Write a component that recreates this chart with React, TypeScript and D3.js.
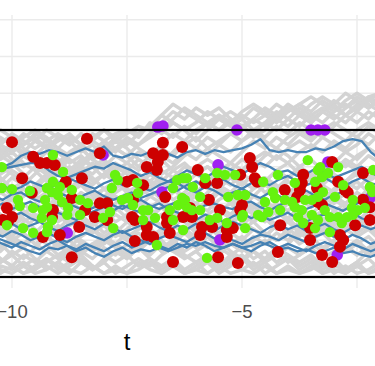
import * as d3 from 'd3'

// sample times of the grey paths
const greyTimes = [-10.5, -10.25, -10, -9.75, -9.5, -9.25, -9, -8.75, -8.5, -8.25, -8, -7.75, -7.5, -7.25, -7, -6.75, -6.5, -6.25, -6, -5.75, -5.5, -5.25, -5, -4.75, -4.5, -4.25, -4, -3.75, -3.5, -3.25, -3, -2.75, -2.5, -2.25, -2]

const greyPaths = [
  [1.9, 1.7, 1.8, 1.5, 1.3, 1.6, 1.4, 1.1, 1.3, 1.0, 1.2, 0.9, 1.1, 1.4, 1.2, 1.5, 1.3, 1.6, 1.8, 1.5, 1.7, 1.9, 2.1, 1.8, 2.0, 2.3, 2.1, 2.4, 2.2, 2.5, 2.7, 2.4, 2.6, 2.9, 2.7],
  [1.5, 1.8, 1.6, 1.9, 1.7, 2.0, 1.8, 1.6, 1.9, 1.7, 1.5, 1.8, 2.0, 1.9, 2.1, 2.4, 2.7, 2.5, 2.3, 2.1, 2.4, 2.2, 2.5, 2.7, 2.5, 2.3, 2.6, 2.4, 2.7, 2.9, 2.7, 3.0, 2.8, 2.6, 2.9],
  [1.0, 1.3, 1.1, 1.4, 1.7, 1.5, 1.8, 1.6, 1.9, 1.7, 2.0, 1.8, 1.6, 1.9, 2.1, 1.9, 2.2, 2.0, 1.7, 2.0, 2.3, 2.5, 2.3, 2.6, 2.4, 2.2, 2.5, 2.7, 2.5, 2.8, 2.6, 2.4, 2.7, 2.9, 3.0],
  [0.6, 0.4, 0.7, 0.5, 0.8, 1.1, 0.9, 1.2, 1.0, 1.3, 1.6, 1.4, 1.7, 1.5, 1.3, 1.6, 1.9, 1.7, 2.0, 2.2, 2.0, 2.3, 2.1, 1.9, 2.2, 2.0, 2.3, 2.1, 2.4, 2.6, 2.4, 2.2, 2.5, 2.3, 2.6],
  [0.3, 0.6, 0.9, 0.7, 1.0, 0.8, 0.5, 0.8, 1.1, 1.4, 1.2, 1.5, 1.3, 1.0, 1.3, 1.1, 1.4, 1.7, 1.5, 1.8, 1.6, 1.9, 1.7, 2.0, 1.8, 2.1, 1.9, 2.2, 2.0, 1.8, 2.1, 2.4, 2.2, 2.5, 2.3],
  [-0.2, 0.1, -0.1, 0.2, 0.5, 0.3, 0.6, 0.4, 0.7, 0.5, 0.8, 0.6, 0.9, 1.2, 1.0, 1.3, 1.1, 1.4, 1.2, 1.5, 1.3, 1.1, 1.4, 1.7, 1.5, 1.8, 1.6, 1.9, 1.7, 2.0, 2.2, 2.0, 1.8, 2.1, 1.9],
  [-0.6, -0.3, -0.5, -0.2, -0.4, -0.1, 0.2, 0.0, 0.3, 0.1, 0.4, 0.2, 0.0, 0.3, 0.6, 0.4, 0.7, 0.5, 0.8, 1.0, 0.8, 1.1, 0.9, 1.2, 1.0, 1.3, 1.1, 1.4, 1.6, 1.4, 1.7, 1.5, 1.8, 1.6, 1.9],
  [-1.0, -0.7, -0.9, -0.6, -0.8, -0.5, -0.7, -0.4, -0.1, -0.3, 0.0, -0.2, 0.1, -0.1, 0.2, 0.0, 0.3, 0.5, 0.3, 0.6, 0.4, 0.7, 0.5, 0.8, 0.6, 0.9, 0.7, 1.0, 0.8, 1.1, 0.9, 1.2, 1.0, 1.3, 1.1],
  [-1.4, -1.2, -0.9, -1.1, -0.8, -1.0, -0.7, -0.9, -0.6, -0.8, -0.5, -0.3, -0.5, -0.2, -0.4, -0.1, -0.3, 0.0, -0.2, 0.1, 0.3, 0.1, 0.4, 0.2, 0.5, 0.3, 0.6, 0.4, 0.2, 0.5, 0.3, 0.6, 0.8, 0.6, 0.9],
  [-1.7, -1.5, -1.7, -1.4, -1.6, -1.3, -1.5, -1.2, -1.4, -1.1, -0.9, -1.1, -0.8, -1.0, -0.7, -0.9, -0.6, -0.8, -0.5, -0.7, -0.4, -0.6, -0.3, -0.1, -0.3, 0.0, -0.2, 0.1, -0.1, 0.2, 0.0, 0.3, 0.1, 0.4, 0.2],
  [-1.9, -1.7, -1.8, -1.6, -1.8, -1.5, -1.7, -1.9, -1.6, -1.8, -1.5, -1.3, -1.5, -1.2, -1.4, -1.1, -1.3, -1.0, -1.2, -0.9, -1.1, -0.8, -1.0, -0.7, -0.9, -0.6, -0.8, -0.5, -0.7, -0.4, -0.6, -0.3, -0.5, -0.2, -0.4],
  [1.7, 1.4, 1.6, 1.3, 1.1, 1.4, 1.2, 0.9, 1.2, 1.0, 0.7, 1.0, 0.8, 0.5, 0.8, 0.6, 0.3, 0.6, 0.4, 0.1, 0.4, 0.2, -0.1, 0.2, 0.0, -0.3, 0.0, -0.2, -0.5, -0.2, -0.4, -0.7, -0.4, -0.6, -0.9],
  [1.2, 0.9, 1.1, 0.8, 0.5, 0.8, 0.6, 0.3, 0.5, 0.2, 0.4, 0.1, -0.2, 0.0, -0.3, -0.1, -0.4, -0.2, -0.5, -0.3, -0.6, -0.4, -0.7, -0.5, -0.8, -1.0, -0.8, -1.1, -0.9, -1.2, -1.0, -1.3, -1.1, -1.4, -1.2],
  [0.8, 0.5, 0.2, 0.4, 0.1, 0.3, 0.0, -0.3, -0.1, -0.4, -0.2, -0.5, -0.3, -0.6, -0.9, -0.7, -1.0, -0.8, -1.1, -0.9, -1.2, -1.4, -1.2, -1.5, -1.3, -1.6, -1.4, -1.7, -1.5, -1.8, -1.6, -1.9, -1.7, -1.5, -1.8],
  [0.4, 0.1, -0.2, 0.0, -0.3, -0.5, -0.3, -0.6, -0.4, -0.7, -0.9, -0.7, -1.0, -1.2, -1.0, -1.3, -1.1, -1.4, -1.6, -1.4, -1.7, -1.5, -1.8, -1.6, -1.9, -1.7, -1.5, -1.8, -1.6, -1.9, -1.7, -1.8, -1.6, -1.9, -1.7],
  [0.0, -0.3, -0.6, -0.4, -0.7, -0.9, -1.2, -1.0, -1.3, -1.1, -1.4, -1.6, -1.4, -1.7, -1.5, -1.8, -1.6, -1.9, -1.7, -1.5, -1.8, -1.6, -1.4, -1.7, -1.5, -1.3, -1.6, -1.4, -1.2, -1.5, -1.3, -1.1, -1.4, -1.2, -1.0],
  [-0.4, -0.7, -0.5, -0.8, -1.1, -1.3, -1.1, -1.4, -1.6, -1.8, -1.6, -1.9, -1.7, -1.5, -1.7, -1.4, -1.2, -1.5, -1.3, -1.1, -1.3, -1.0, -1.2, -0.9, -1.1, -0.8, -1.0, -0.7, -0.9, -0.6, -0.8, -0.5, -0.7, -0.4, -0.6],
  [-0.8, -1.1, -1.4, -1.2, -1.5, -1.7, -1.9, -1.7, -1.5, -1.8, -1.6, -1.3, -1.5, -1.2, -1.0, -1.3, -1.1, -0.8, -1.0, -0.7, -0.5, -0.8, -0.6, -0.3, -0.5, -0.2, -0.4, -0.1, -0.3, 0.0, 0.2, 0.0, 0.3, 0.1, 0.4],
  [-1.2, -1.5, -1.7, -1.9, -1.7, -1.5, -1.8, -1.6, -1.4, -1.7, -1.9, -1.7, -1.9, -1.8, -1.6, -1.9, -1.7, -1.9, -1.8, -1.6, -1.9, -1.7, -1.5, -1.8, -1.6, -1.9, -1.7, -1.9, -1.8, -1.6, -1.9, -1.7, -1.9, -1.8, -1.6],
  [-1.6, -1.9, -1.7, -1.9, -1.8, -1.6, -1.4, -1.6, -1.3, -1.5, -1.2, -1.4, -1.1, -1.3, -1.0, -0.8, -1.0, -0.7, -0.9, -0.6, -0.8, -0.5, -0.3, -0.5, -0.2, 0.0, -0.2, 0.1, 0.3, 0.1, 0.4, 0.6, 0.4, 0.7, 0.9],
  [1.8, 2.0, 1.8, 1.6, 1.8, 1.5, 1.7, 1.9, 1.6, 1.8, 2.0, 1.7, 1.9, 2.1, 2.0, 2.4, 2.2, 2.0, 2.2, 2.5, 2.3, 2.1, 2.3, 2.0, 2.2, 2.5, 2.3, 2.6, 2.4, 2.2, 2.5, 2.7, 2.5, 2.8, 3.0],
  [1.4, 1.6, 1.9, 1.7, 1.5, 1.7, 1.9, 1.7, 1.4, 1.6, 1.3, 1.5, 1.8, 1.6, 1.9, 2.2, 2.5, 2.3, 2.6, 2.4, 2.6, 2.3, 2.1, 2.3, 2.6, 2.4, 2.7, 2.5, 2.3, 2.5, 2.8, 2.6, 2.9, 2.7, 2.5],
  [0.9, 0.7, 0.4, 0.6, 0.3, 0.5, 0.8, 0.6, 0.9, 0.7, 0.4, 0.6, 0.3, 0.5, 0.2, 0.4, 0.1, 0.3, 0.6, 0.4, 0.7, 0.5, 0.8, 0.6, 0.3, 0.5, 0.2, 0.4, 0.7, 0.5, 0.8, 0.6, 0.9, 0.7, 1.0],
  [0.1, 0.3, 0.5, 0.2, 0.4, 0.7, 0.9, 0.7, 1.0, 0.8, 1.1, 0.9, 0.6, 0.8, 0.5, 0.7, 0.4, 0.2, 0.4, 0.1, 0.3, 0.0, 0.2, -0.1, 0.1, -0.2, 0.0, 0.2, -0.1, 0.1, -0.2, 0.0, -0.3, -0.1, -0.4],
  [-0.3, -0.1, 0.2, 0.4, 0.2, 0.5, 0.3, 0.1, -0.2, 0.0, -0.3, -0.1, -0.4, -0.2, -0.5, -0.3, -0.6, -0.4, -0.7, -0.5, -0.2, -0.4, -0.1, -0.3, 0.0, -0.2, -0.5, -0.3, -0.6, -0.4, -0.7, -0.5, -0.8, -0.6, -0.3],
  [-0.9, -0.6, -0.8, -0.5, -0.3, -0.5, -0.2, -0.4, -0.7, -0.5, -0.8, -0.6, -0.9, -0.7, -0.4, -0.6, -0.3, -0.5, -0.8, -0.6, -0.9, -1.1, -0.9, -1.2, -1.0, -1.3, -1.1, -0.8, -1.0, -0.7, -0.9, -1.2, -1.0, -1.3, -1.1],
  [-1.5, -1.3, -1.0, -1.2, -0.9, -1.1, -1.4, -1.2, -0.9, -0.7, -1.0, -0.8, -0.5, -0.7, -0.4, -0.6, -0.9, -0.7, -1.0, -1.2, -1.0, -1.3, -1.5, -1.3, -1.6, -1.4, -1.2, -1.4, -1.1, -1.3, -1.0, -1.2, -1.4, -1.2, -1.5],
  [0.5, 0.8, 1.0, 1.3, 1.1, 0.8, 1.0, 1.3, 1.5, 1.2, 1.4, 1.7, 1.5, 1.2, 1.0, 1.2, 0.9, 1.1, 0.8, 1.0, 0.7, 0.9, 1.2, 1.0, 1.3, 1.5, 1.3, 1.0, 1.2, 0.9, 1.1, 1.4, 1.2, 1.5, 1.3],
  [1.6, 1.3, 1.5, 1.8, 2.0, 1.8, 1.5, 1.3, 1.5, 1.2, 1.0, 1.3, 1.1, 0.9, 1.1, 0.8, 1.0, 1.3, 1.5, 1.3, 1.6, 1.4, 1.7, 1.9, 1.7, 1.5, 1.8, 2.0, 1.8, 2.1, 1.9, 1.7, 2.0, 2.2, 2.0],
  [-1.1, -0.8, -0.5, -0.7, -0.4, -0.2, 0.1, -0.1, 0.2, 0.0, -0.2, 0.0, 0.3, 0.1, -0.1, 0.1, -0.2, 0.0, 0.2, 0.0, 0.3, 0.1, -0.2, 0.0, -0.3, -0.1, 0.1, -0.1, -0.4, -0.2, 0.1, -0.1, -0.3, -0.1, -0.4],
  [1.3, 1.5, 1.2, 1.0, 1.2, 0.9, 1.1, 1.4, 1.6, 1.4, 1.7, 1.5, 1.3, 1.6, 1.8, 2.0, 1.8, 2.1, 1.9, 2.2, 2.4, 2.2, 2.0, 2.3, 2.1, 2.4, 2.6, 2.4, 2.2, 2.5, 2.3, 2.6, 2.8, 2.6, 2.8],
  [0.2, -0.1, 0.1, -0.2, -0.4, -0.2, -0.5, -0.3, -0.6, -0.8, -0.6, -0.9, -0.7, -0.4, -0.6, -0.3, -0.5, -0.2, 0.0, -0.2, 0.1, 0.3, 0.1, 0.4, 0.6, 0.4, 0.7, 0.9, 0.7, 1.0, 1.2, 1.0, 1.3, 1.5, 1.3],
  [-1.3, -1.6, -1.4, -1.7, -1.5, -1.8, -1.6, -1.3, -1.1, -1.3, -1.0, -1.2, -1.4, -1.2, -1.5, -1.7, -1.5, -1.8, -1.6, -1.9, -1.7, -1.4, -1.6, -1.3, -1.5, -1.2, -1.4, -1.6, -1.4, -1.7, -1.5, -1.8, -1.6, -1.3, -1.5],
  [0.7, 1.0, 0.8, 0.6, 0.3, 0.5, 0.2, 0.4, 0.6, 0.3, 0.1, 0.3, 0.5, 0.8, 0.6, 0.9, 0.7, 1.0, 0.8, 0.6, 0.9, 1.1, 0.9, 1.2, 1.4, 1.2, 1.5, 1.7, 1.5, 1.8, 1.6, 1.4, 1.6, 1.9, 1.7],
  [-0.5, -0.8, -1.0, -0.8, -1.1, -0.9, -0.6, -0.8, -1.1, -1.3, -1.1, -0.8, -1.0, -0.8, -1.1, -0.9, -0.6, -0.4, -0.6, -0.3, -0.1, -0.3, 0.0, -0.2, -0.4, -0.7, -0.5, -0.8, -1.0, -0.8, -1.1, -1.3, -1.1, -0.9, -1.2],
  [1.1, 1.4, 1.6, 1.4, 1.1, 0.8, 1.0, 0.7, 0.9, 0.6, 0.8, 1.1, 0.9, 0.7, 0.4, 0.6, 0.9, 0.7, 1.0, 1.2, 1.0, 0.7, 0.5, 0.8, 0.6, 0.9, 1.1, 0.8, 0.6, 0.9, 0.7, 0.4, 0.6, 0.3, 0.5],
  [-1.8, -1.6, -1.3, -1.5, -1.2, -0.9, -1.1, -0.8, -1.0, -1.2, -0.9, -1.1, -1.3, -1.1, -0.8, -1.0, -1.3, -1.5, -1.3, -1.6, -1.4, -1.1, -1.3, -1.0, -0.8, -1.0, -0.7, -0.9, -0.6, -0.8, -0.5, -0.7, -0.9, -0.7, -1.0],
  [0.0, 0.3, 0.1, 0.4, 0.2, 0.0, -0.3, -0.5, -0.3, -0.1, 0.2, 0.4, 0.7, 0.5, 0.8, 0.6, 0.4, 0.1, 0.3, 0.0, -0.2, 0.0, -0.3, -0.5, -0.3, -0.6, -0.4, -0.7, -0.5, -0.2, -0.4, -0.1, 0.1, -0.1, 0.2],
  [1.9, 1.6, 1.4, 1.6, 1.9, 1.7, 1.5, 1.8, 1.6, 1.9, 1.7, 1.9, 2.0, 1.8, 2.2, 2.0, 2.3, 2.6, 2.4, 2.2, 2.0, 2.2, 2.4, 2.2, 2.4, 2.7, 2.5, 2.7, 2.9, 2.7, 2.5, 2.8, 3.0, 2.8, 2.7],
  [-0.7, -0.4, -0.6, -0.3, 0.0, -0.2, -0.4, -0.1, -0.3, -0.6, -0.4, -0.7, -0.9, -1.1, -0.9, -1.2, -1.0, -1.3, -1.1, -0.9, -0.6, -0.8, -0.5, -0.7, -0.9, -0.6, -0.8, -0.5, -0.3, -0.5, -0.2, -0.4, -0.6, -0.4, -0.7],
  [1.5, 1.2, 1.4, 1.1, 0.9, 0.6, 0.8, 1.0, 0.8, 1.1, 0.9, 0.6, 0.4, 0.2, 0.4, 0.1, -0.1, 0.2, 0.0, 0.3, 0.5, 0.3, 0.6, 0.4, 0.7, 0.5, 0.3, 0.5, 0.8, 0.6, 0.9, 1.1, 0.9, 0.6, 0.8],
  [-1.9, -1.8, -1.9, -1.7, -1.9, -1.8, -1.6, -1.8, -1.9, -1.7, -1.9, -1.8, -1.9, -1.6, -1.8, -1.9, -1.7, -1.9, -1.8, -1.9, -1.7, -1.9, -1.8, -1.9, -1.7, -1.9, -1.8, -1.9, -1.7, -1.9, -1.8, -1.9, -1.7, -1.9, -1.8],
]

// sample times of the blue paths
const blueTimes = [-10.4, -10.2, -10, -9.8, -9.6, -9.4, -9.2, -9, -8.8, -8.6, -8.4, -8.2, -8, -7.8, -7.6, -7.4, -7.2, -7, -6.8, -6.6, -6.4, -6.2, -6, -5.8, -5.6, -5.4, -5.2, -5, -4.8, -4.6, -4.4, -4.2, -4, -3.8, -3.6, -3.4, -3.2, -3, -2.8, -2.6, -2.4, -2.2, -2]

const bluePaths = [
  [0.9, 1.0, 1.1, 1.3, 1.4, 1.35, 1.45, 1.4, 1.3, 1.4, 1.5, 1.4, 1.55, 1.3, 1.25, 1.35, 1.3, 1.4, 1.3, 1.35, 1.25, 1.4, 1.45, 1.35, 1.45, 1.4, 1.45, 1.5, 1.6, 1.75, 1.45, 1.4, 1.45, 1.4, 1.4, 1.5, 1.45, 1.55, 1.7, 1.75, 1.7, 1.4, 1.2],
  [0.85, 0.95, 1.0, 1.05, 1.1, 1.1, 0.9, 0.75, 0.7, 0.8, 0.9, 1.0, 0.95, 1.1, 1.0, 0.9, 0.75, 0.85, 0.7, 0.6, 0.75, 0.9, 0.8, 0.7, 0.85, 1.0, 0.9, 0.8, 0.95, 1.1, 1.0, 0.85, 0.9, 0.75, 0.8, 0.95, 0.85, 0.7, 0.8, 0.9, 1.0, 0.85, 0.7],
  [0.4, 0.5, 0.35, 0.45, 0.6, 0.5, 0.4, 0.55, 0.7, 0.6, 0.5, 0.4, 0.55, 0.65, 0.5, 0.6, 0.45, 0.35, 0.5, 0.6, 0.55, 0.4, 0.3, 0.45, 0.35, 0.2, 0.3, 0.4, 0.25, 0.15, 0.3, 0.2, 0.1, 0.25, 0.35, 0.2, 0.1, 0.25, 0.3, 0.15, 0.05, 0.2, 0.3],
  [0.2, 0.1, 0.25, 0.3, 0.15, 0.05, 0.2, 0.3, 0.2, 0.1, 0.25, 0.35, 0.2, 0.1, 0.2, 0.3, 0.15, 0.25, 0.35, 0.45, 0.35, 0.5, 0.6, 0.45, 0.55, 0.65, 0.5, 0.4, 0.55, 0.6, 0.5, 0.65, 0.75, 0.6, 0.5, 0.6, 0.7, 0.55, 0.45, 0.6, 0.7, 0.55, 0.5],
  [-0.1, 0.0, -0.15, -0.05, 0.05, -0.1, -0.2, -0.05, 0.0, -0.1, -0.2, -0.1, 0.05, -0.05, -0.15, 0.0, 0.1, -0.05, -0.15, -0.05, 0.05, -0.1, -0.2, -0.05, 0.0, -0.1, -0.15, 0.0, 0.05, -0.1, -0.2, -0.05, 0.05, -0.05, -0.15, -0.05, 0.0, -0.1, -0.2, -0.05, 0.05, -0.1, -0.15],
  [-0.3, -0.45, -0.35, -0.25, -0.4, -0.5, -0.35, -0.25, -0.35, -0.45, -0.3, -0.2, -0.1, -0.2, -0.05, -0.15, -0.25, -0.1, 0.0, -0.15, -0.25, -0.35, -0.45, -0.3, -0.4, -0.5, -0.35, -0.25, -0.4, -0.3, -0.45, -0.35, -0.25, -0.4, -0.5, -0.35, -0.3, -0.45, -0.35, -0.25, -0.4, -0.5, -0.35],
  [-0.5, -0.4, -0.55, -0.7, -0.6, -0.5, -0.65, -0.75, -0.6, -0.5, -0.6, -0.7, -0.55, -0.65, -0.8, -0.7, -0.6, -0.5, -0.65, -0.75, -0.6, -0.7, -0.55, -0.65, -0.75, -0.6, -0.5, -0.6, -0.7, -0.8, -0.65, -0.55, -0.7, -0.6, -0.75, -0.65, -0.55, -0.7, -0.8, -0.65, -0.6, -0.7, -0.6],
  [-0.8, -0.9, -0.75, -0.85, -1.0, -0.9, -0.8, -0.95, -1.05, -0.9, -0.8, -0.9, -1.0, -0.85, -0.75, -0.9, -1.0, -1.1, -0.95, -0.85, -0.95, -1.05, -0.9, -0.8, -0.95, -0.85, -1.0, -1.1, -0.95, -0.85, -0.9, -1.0, -0.85, -0.95, -1.05, -0.9, -0.8, -0.9, -1.0, -0.85, -0.95, -1.1, -1.0],
  [-1.0, -1.1, -1.2, -1.05, -1.15, -1.25, -1.1, -1.0, -1.15, -1.25, -1.1, -1.2, -1.3, -1.15, -1.05, -1.2, -1.1, -1.0, -1.15, -1.25, -1.1, -1.2, -1.05, -1.15, -1.3, -1.2, -1.1, -1.2, -1.3, -1.15, -1.05, -1.2, -1.1, -1.2, -1.3, -1.15, -1.05, -1.15, -1.25, -1.1, -1.2, -1.3, -1.2],
  [-0.9, -1.0, -1.1, -1.2, -1.3, -1.38, -1.2, -1.25, -1.15, -1.3, -1.2, -1.35, -1.45, -1.3, -1.2, -1.35, -1.25, -1.3, -1.2, -1.3, -1.2, -1.1, -1.15, -1.05, -1.15, -1.2, -1.1, -1.2, -1.15, -1.05, -1.15, -1.25, -1.2, -1.3, -1.25, -1.35, -1.3, -1.2, -1.35, -1.3, -1.4, -1.45, -1.35],
]

const redT = [-10.0, -8.37, -9.54, -9.39, -9.24, -9.07, -8.09, -9.78, -8.83, -8.48, -8.7, -10.11, -10.0, -10.2, -10.09, -9.57, -9.11, -9.13, -8.41, -8.09, -7.93, -8.2, -7.93, -8.54, -9.33, -8.96, -8.7, -7.5, -7.37, -7.15, -7.37, -7.39, -7.33, -7.07, -7.07, -6.93, -7.33, -6.72, -6.3, -6.93, -6.72, -6.83, -7.07, -6.85, -6.67, -6.63, -6.63, -6.57, -6.5, -6.28, -5.96, -5.54, -4.83, -4.78, -5.8, -4.72, -4.67, -5.04, -5.72, -5.48, -6.13, -6.09, -5.0, -5.04, -5.87, -5.91, -5.65, -5.33, -5.33, -5.2, -5.52, -5.09, -4.22, -4.07, -4.17, -3.67, -3.7, -3.74, -3.8, -3.52, -3.26, -3.37, -3.35, -3.04, -2.91, -2.76, -2.7, -2.87, -2.8, -2.87, -3.26, -3.04, -2.37, -2.54, -2.22, -2.22, -2.37, -3.52]
const redV = [1.67, 1.76, 1.27, 1.1, 1.1, 1.05, 1.37, 0.69, 0.59, 0.69, 0.15, -0.12, -0.37, -0.45, -0.5, 0.29, -0.18, -0.37, -0.18, 0.01, 0.01, -0.37, -0.45, -0.64, -0.91, -0.86, -1.46, 0.59, 0.64, 0.5, 0.1, -0.37, -0.45, -0.64, -0.86, -0.91, -1.02, 1.65, 1.54, 1.37, 1.32, 1.13, 0.99, 0.91, 0.18, -0.37, -0.53, -0.8, -1.59, -0.37, 0.91, 0.56, 1.24, 0.99, 0.56, 0.69, 0.59, 0.78, 0.1, -0.18, -0.12, -0.37, -0.04, -0.18, -0.64, -0.86, -0.64, -0.72, -0.91, -0.67, -1.46, -1.62, -1.32, 0.37, -0.59, 0.78, 0.56, 0.37, 0.18, -0.99, -0.04, 0.42, 0.04, 1.13, 0.59, 0.37, 0.29, -0.86, -0.99, -1.18, -1.4, -1.59, 0.83, -0.59, -0.1, -0.45, 0.1, -0.67]

const greenT = [-9.11, -10.22, -8.89, -9.11, -8.96, -10.22, -10.0, -9.61, -9.24, -9.13, -9.0, -8.7, -9.87, -9.83, -9.28, -9.24, -8.91, -8.52, -8.35, -9.54, -9.33, -8.78, -8.8, -8.52, -8.02, -7.87, -9.35, -9.13, -10.11, -9.76, -9.22, -9.24, -9.54, -7.8, -7.76, -7.7, -7.83, -7.61, -7.48, -7.28, -7.26, -7.37, -7.15, -7.04, -6.89, -6.85, -6.57, -6.39, -6.5, -6.3, -6.28, -6.41, -6.5, -6.28, -7.15, -5.54, -5.37, -5.15, -5.8, -4.22, -3.57, -3.85, -4.54, -6.2, -6.07, -5.91, -6.2, -6.09, -5.91, -5.3, -5.09, -4.93, -4.5, -4.33, -4.28, -4.07, -4.17, -3.91, -3.63, -3.48, -3.85, -3.7, -3.41, -3.26, -3.35, -3.3, -3.13, -2.91, -3.35, -3.24, -3.2, -2.98, -2.8, -2.59, -2.61, -2.33, -2.22, -2.17, -2.15, -2.48, -4.57, -4.43, -3.48, -3.35, -3.09, -2.91, -2.83, -2.72, -2.59, -4.98, -4.65, -3.78, -3.67, -3.41, -3.09, -5.7, -5.54, -5.33, -4.93, -5.0, -6.24, -5.76]
const greenV = [1.32, 0.99, 0.86, 0.59, 0.45, 0.42, 0.39, 0.34, 0.42, 0.31, 0.23, 0.37, 0.1, -0.07, 0.1, -0.1, 0.04, 0.1, 0.01, -0.12, -0.18, -0.12, -0.31, -0.31, -0.39, -0.23, -0.39, -0.45, -0.59, -0.67, -0.64, -0.78, -0.8, -0.67, 0.78, 0.64, 0.42, 0.1, 0.15, 0.56, 0.29, -0.04, -0.18, -0.18, -0.39, -1.13, -0.18, -0.04, 0.42, 0.15, 0.69, 0.64, -0.45, -0.72, -0.45, 0.83, 0.78, 0.78, 0.69, 0.78, 1.18, 0.56, 0.59, 0.69, 0.45, 0.18, -0.1, -0.18, -0.18, 0.18, 0.23, 0.23, 0.04, 0.31, 0.15, 0.1, -0.18, 0.04, 0.1, 0.1, -0.1, -0.18, 0.59, 0.72, 0.91, 0.99, 0.83, 0.99, 0.18, 0.31, -0.18, 0.18, 0.5, 0.1, -0.12, -0.12, 0.45, 0.31, 0.91, -0.18, -0.37, -0.23, -0.31, -0.45, -0.37, -0.37, -0.53, -0.37, -0.31, -0.31, -0.31, -0.37, -0.53, -0.67, -0.78, -0.45, -0.39, -0.53, -0.67, -0.37, 0.1, -1.48]

const purpleT = [-6.83, -6.72, -5.11, -3.5, -3.35, -3.2, -8.02, -8.8, -6.74, -5.52, -5.48, -2.93, -2.22, -3.13]
const purpleV = [2.08, 2.11, 2.0, 2.0, 2.0, 2.0, 1.32, -0.8, 0.31, 1.05, -0.99, -1.4, 0.15, 1.13]

const boxT = [-10.6, -1.7]
const boxV = [-2, 2]

const xTicks = [-10, -5]
const xTickLabels = ['\u221210', '\u22125']
const xGrid = [-10, -7.5, -5, -2.5]
const yGrid = [-2, -1, 0, 1, 2, 3, 4, 5]

const W = 375
const H = 366

export default function App() {
  const x = d3.scaleLinear().domain([-10, -5]).range([12, 242])
  const y = d3.scaleLinear().domain([-2, 2]).range([277, 130])
  const panelTop = 15
  const panelBottom = 288

  const pathOf = (times: number[]) =>
    d3.line<number>()
      .x((_, i) => x(times[i]))
      .y((d) => y(d))

  const greyLine = pathOf(greyTimes)
  const blueLine = pathOf(blueTimes)

  return (
    <div style={{ position: 'fixed', left: 0, top: 0, background: '#fff' }}>
      <svg width={W} height={H} style={{ display: 'block' }} fontFamily="'Liberation Sans', Arial, sans-serif">
        <rect width={W} height={H} fill="#fff" />
        {yGrid.map((v) => (
          <line key={'h' + v} x1={0} x2={W} y1={y(v)} y2={y(v)} stroke="#ebebeb" strokeWidth={1.4} />
        ))}
        {xGrid.map((t) => (
          <line key={'v' + t} x1={x(t)} x2={x(t)} y1={panelTop} y2={panelBottom} stroke="#ebebeb" strokeWidth={1.4} />
        ))}
        <g fill="none" stroke="#d3d3d3" strokeWidth={3.4} strokeLinejoin="round">
          {greyPaths.map((p, i) => (
            <path key={i} d={greyLine(p) ?? ''} />
          ))}
        </g>
        <g fill="none" stroke="#4682b4" strokeWidth={2.3} strokeLinejoin="round">
          {bluePaths.map((p, i) => (
            <path key={i} d={blueLine(p) ?? ''} />
          ))}
        </g>
        <g fill="#a020f0">
          {purpleT.map((t, i) => (
            <circle key={i} cx={x(t)} cy={y(purpleV[i])} r={5.8} />
          ))}
        </g>
        <g fill="#cd0000">
          {redT.map((t, i) => (
            <circle key={i} cx={x(t)} cy={y(redV[i])} r={6} />
          ))}
        </g>
        <g fill="#66f20f">
          {greenT.map((t, i) => (
            <circle key={i} cx={x(t)} cy={y(greenV[i])} r={5.2} />
          ))}
        </g>
        <rect
          x={x(boxT[0])}
          y={y(boxV[1])}
          width={x(boxT[1]) - x(boxT[0])}
          height={y(boxV[0]) - y(boxV[1])}
          fill="none"
          stroke="#000"
          strokeWidth={2.2}
        />
        {xTicks.map((t, i) => (
          <text key={t} x={x(t)} y={318} textAnchor="middle" fontSize={18.5} fill="#4d4d4d">
            {xTickLabels[i]}
          </text>
        ))}
        <text x={x(-7.5)} y={350} textAnchor="middle" fontSize={24} fill="#000">
          t
        </text>
      </svg>
    </div>
  )
}
